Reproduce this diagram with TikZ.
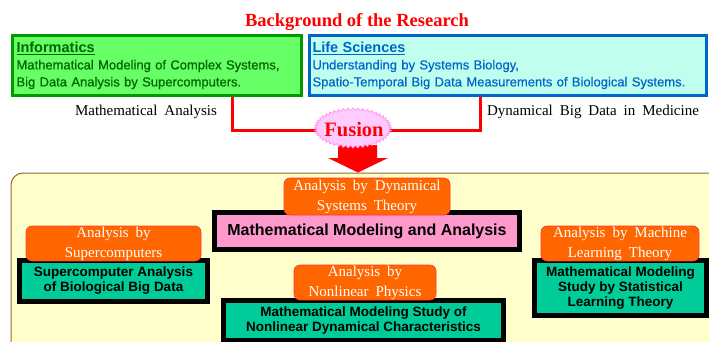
\documentclass[tikz,border=0pt]{standalone}
\usepackage{fontspec}
\setmainfont{Liberation Serif}
\setsansfont{Liberation Sans}
\newfontfamily\widesans[WordSpace=1.5, FakeBold=0.6]{Liberation Sans}
\newfontfamily\wideserif[WordSpace=1.85]{Liberation Serif}
\usetikzlibrary{backgrounds}

\definecolor{infofill}{HTML}{66FF66}
\definecolor{infoline}{HTML}{009900}
\definecolor{infotext}{HTML}{006600}
\definecolor{lifefill}{HTML}{C0FFEE}
\definecolor{lifeline}{HTML}{0066CC}
\definecolor{panel}{HTML}{FFFFCC}
\definecolor{panelline}{HTML}{996633}
\definecolor{tagfill}{HTML}{FF6600}
\definecolor{tagline}{HTML}{FF3333}
\definecolor{modelpink}{HTML}{FF99CC}
\definecolor{modelgreen}{HTML}{00CC99}
\definecolor{burstfill}{HTML}{FFCCFF}
\definecolor{burstline}{HTML}{FF99EE}

% thin inner rule of the double-framed model boxes
\newcommand\innerframe[1]{%
  \draw[black, line width=0.8pt]
    ([shift={(4.5,4.5)}]#1.north west) rectangle ([shift={(-4.5,-4.5)}]#1.south east);}

% underlined field heading
\newcommand\fieldhead[1]{{\sffamily\bfseries\fontsize{14.5}{17}\selectfont\underline{#1}}}

\begin{document}
\begin{tikzpicture}[x=1pt, y=-1pt,
  topbox/.style={rectangle, line width=3pt, minimum height=60pt, align=left,
    inner ysep=0pt, font=\widesans\fontsize{13}{17}\selectfont},
  heading/.style={font=\rmfamily\bfseries\fontsize{18.5}{22}\selectfont, text=red},
  note/.style={font=\wideserif\fontsize{15}{18}\selectfont, inner sep=0pt},
  fuseline/.style={red, line width=3pt},
  tag/.style={rectangle, rounded corners=6pt, fill=tagfill, draw=tagline, line width=0.6pt,
    text=white, align=center, inner sep=0pt,
    font=\wideserif\fontsize{15}{20}\selectfont},
  model/.style={rectangle, draw=black, line width=4pt, align=center, inner sep=0pt,
    font=\sffamily\bfseries\fontsize{13.5}{15}\selectfont},
]
\useasboundingbox (0,0) rectangle (709,342);
\clip (0,0) rectangle (709,342);

% title and the two source fields
\node[heading] (title) at (357,22) {Background of the Research};

\node[topbox, draw=infoline, fill=infofill, text=infotext,
      minimum width=289pt, text width=281pt, inner xsep=4pt] (info) at (157,65.5)
  {\fieldhead{Informatics}\\
   Mathematical  Modeling of Complex Systems,\\
   Big Data Analysis by Supercomputers.};

\node[topbox, draw=lifeline, fill=lifefill, text=lifeline,
      minimum width=397pt, text width=391pt, inner xsep=3pt] (lsci) at (508,65.5)
  {\fieldhead{Life Sciences}\\
   Understanding by Systems Biology,\\
   Spatio-Temporal Big Data Measurements of Biological Systems.};

\node[note] (mathan) at (146,112) {Mathematical Analysis};
\node[note] (dynbig) at (593,112) {Dynamical Big Data in Medicine};

% fusion of the two fields
\coordinate (fl) at (232,131);
\coordinate (fr) at (480,131);
\coordinate (fc) at (353,128);

% panel holding the research themes
\draw[fill=panel, draw=panelline, line width=1pt, rounded corners=12pt]
  (11,173) rectangle (760,420);

% downward arrow out of the fusion burst
\fill[red] (338,145) -- (377,145) -- (377,158) -- (388,158) -- (358,172.5)
  -- (328,158) -- (338,158) -- cycle;

% jagged burst behind the word Fusion
\filldraw[fill=burstfill, draw=burstline, line width=0.8pt]
  (391.5,128) \foreach \k in {1,...,95}{
    -- ({353+(38.5-2.5*mod(\k,2))*cos(\k*3.75)}, {128+(20-2.5*mod(\k,2))*sin(\k*3.75)}) }
  -- cycle;
\node[font=\rmfamily\bfseries\fontsize{20.5}{22}\selectfont, text=red] (fusion) at (354,129.5) {Fusion};

\begin{scope}[on background layer]
  \draw[fuseline] (fl |- info.south) -- (fl) -- (fc |- fl);
  \draw[fuseline] (fr |- lsci.south) -- (fr) -- (fc |- fr);
\end{scope}

% model boxes with their analysis tags
\node[model, fill=modelpink, minimum width=306pt, minimum height=38pt,
      font=\sffamily\bfseries\fontsize{16}{18}\selectfont] (mma) at (367,231)
  {Mathematical Modeling and Analysis};
\innerframe{mma}
\node[tag, minimum width=166pt, minimum height=37pt] (tdyn) at (367,196.5)
  {Analysis by Dynamical\\Systems Theory};

\node[model, fill=modelgreen, minimum width=189pt, minimum height=42pt] (sup) at (113.5,281)
  {Supercomputer Analysis\\of Biological Big Data};
\innerframe{sup}
\node[tag, minimum width=175pt, minimum height=35pt] (tsup) at (113.5,243.5)
  {Analysis by\\Supercomputers};

\node[model, fill=modelgreen, minimum width=281pt, minimum height=41pt] (nld) at (363.5,320.5)
  {Mathematical Modeling Study of\\Nonlinear Dynamical Characteristics};
\innerframe{nld}
\node[tag, minimum width=142pt, minimum height=35pt] (tnl) at (365,282.5)
  {Analysis by\\Nonlinear Physics};

\node[model, fill=modelgreen, minimum width=173pt, minimum height=56pt] (slt) at (620.5,288)
  {Mathematical Modeling\\Study by Statistical\\Learning Theory};
\innerframe{slt}
\node[tag, minimum width=158pt, minimum height=35pt] (tml) at (620,243.5)
  {Analysis by Machine\\Learning Theory};
\end{tikzpicture}
\end{document}
